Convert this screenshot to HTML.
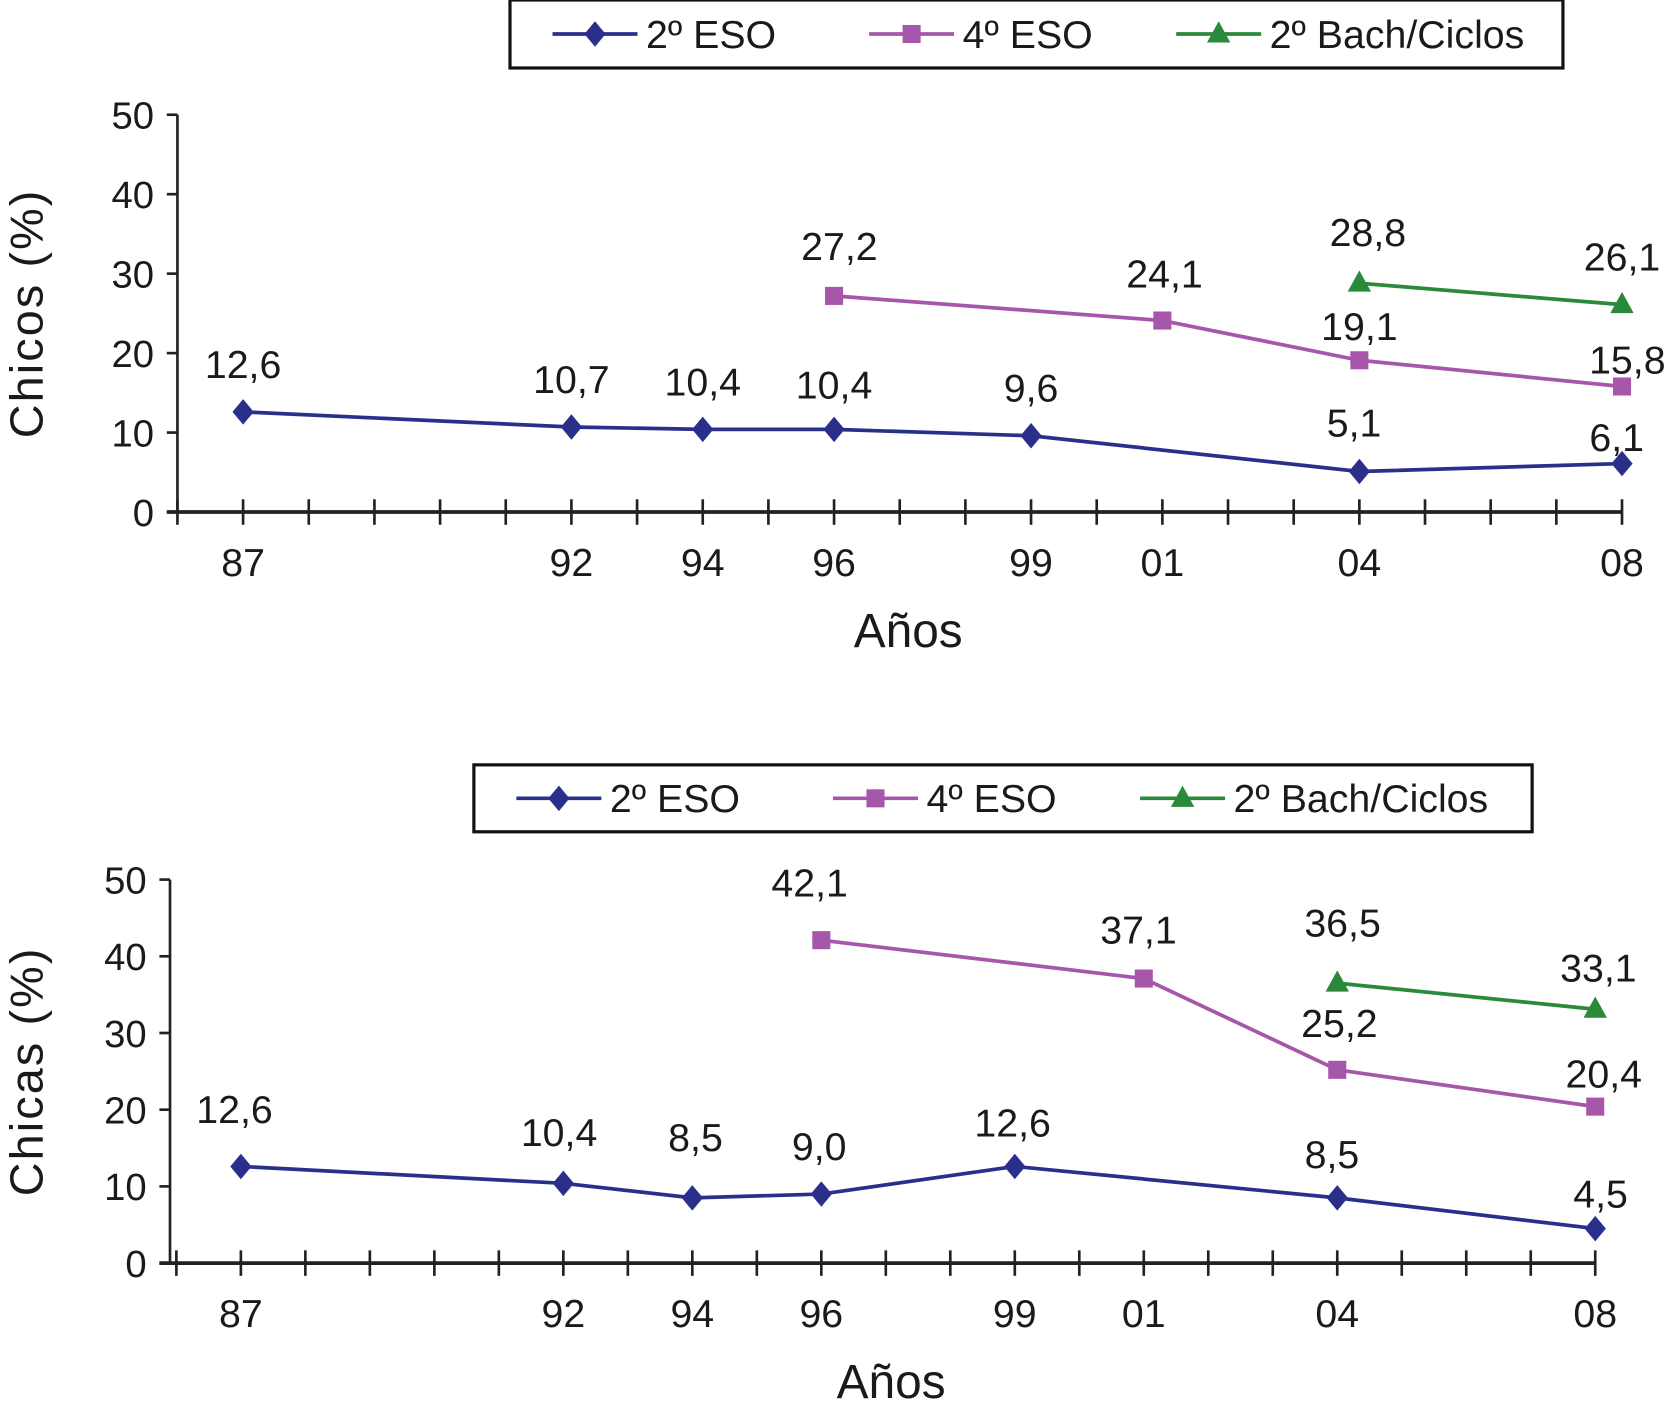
<!DOCTYPE html>
<html><head><meta charset="utf-8"><style>
html,body{margin:0;padding:0;background:#fff;}
svg{display:block;}
text{font-family:"Liberation Sans",sans-serif;fill:#1a1a1a;}
</style></head>
<body>
<svg id="chart" width="1666" height="1415" viewBox="0 0 1568 1332" preserveAspectRatio="none" xmlns="http://www.w3.org/2000/svg"></svg>
<script>
const years = [1987,1992,1994,1996,1999,2001,2004,2008];
const yearLabels = ["87","92","94","96","99","01","04","08"];
const yTicks = [0,10,20,30,40,50];
const seriesNames = ["2º ESO","4º ESO","2º Bach/Ciclos"];
// Chicos
const chicosESO2 = [12.6,10.7,10.4,10.4,9.6,null,5.1,6.1];
const chicosESO4 = [null,null,null,27.2,null,24.1,19.1,15.8];
const chicosBach = [null,null,null,null,null,null,28.8,26.1];
// Chicas
const chicasESO2 = [12.6,10.4,8.5,9.0,12.6,null,8.5,4.5];
const chicasESO4 = [null,null,null,42.1,null,37.1,25.2,20.4];
const chicasBach = [null,null,null,null,null,null,36.5,33.1];

const colors = ["#2b2f8c","#a657a9","#2a8a3a"];
const svg = document.getElementById('chart');
const NS = "http://www.w3.org/2000/svg";
function mk(tag, attrs, parent){
  const e = document.createElementNS(NS, tag);
  for (const k in attrs) e.setAttribute(k, attrs[k]);
  (parent||svg).appendChild(e);
  return e;
}
function fmt(v){ return v.toFixed(1).replace('.', ','); }
function marker(g, kind, x, y, color){
  let m;
  if (kind===0) m = mk('polygon',{points:`${x},${y-12} ${x+10},${y} ${x},${y+12} ${x-10},${y}`,fill:color},g);
  else if (kind===1) m = mk('rect',{x:x-8.5,y:y-8.5,width:17,height:17,fill:color},g);
  else m = mk('polygon',{points:`${x},${y-12} ${x+11},${y+8} ${x-11},${y+8}`,fill:color},g);
  return m;
}
function legend(cfg){
  const g = mk('g',{});
  
  
  mk('rect',{x:cfg.lx,y:cfg.ly,width:cfg.lw,height:cfg.lh,fill:'#fff',stroke:'#111','stroke-width':3},g);
  const offs=[40,338,627];
  seriesNames.forEach((n,i)=>{
    const e = mk('g',{},g);
    
    
    const x0 = cfg.lx+offs[i], yc = cfg.ly+cfg.lh/2;
    mk('line',{x1:x0,y1:yc,x2:x0+80,y2:yc,stroke:colors[i],'stroke-width':3.5},e);
    marker(e,i,x0+40,yc,colors[i]);
    const t = mk('text',{x:x0+88,y:yc+13,'font-size':37},e);
    t.textContent = n;
  });
}
function chart(cfg, data){
  legend(cfg);
  const g = mk('g',{});
  
  
  const X = yr => cfg.x0 + (yr-1986)*cfg.step;
  const Y = v => cfg.yb - v*(cfg.yb-cfg.yt)/50;
  mk('line',{x1:cfg.ax,y1:cfg.yt,x2:cfg.ax,y2:cfg.yb,stroke:'#222','stroke-width':2.5},g);
  yTicks.forEach(v=>{
    mk('line',{x1:cfg.ax-10,y1:Y(v),x2:cfg.ax,y2:Y(v),stroke:'#222','stroke-width':2.5},g);
    const t = mk('text',{x:cfg.ax-22,y:Y(v)+13,'font-size':36,'text-anchor':'end'},g);
    
    
    t.textContent = v;
  });
  mk('line',{x1:cfg.ax-10,y1:cfg.yb,x2:X(2008),y2:cfg.yb,stroke:'#222','stroke-width':3.5},g);
  for (let yr=1986; yr<=2008; yr++){
    mk('line',{x1:X(yr),y1:cfg.yb-12,x2:X(yr),y2:cfg.yb+12,stroke:'#222','stroke-width':2.5},g);
  }
  years.forEach((yr,i)=>{
    const t = mk('text',{x:X(yr),y:cfg.yb+60,'font-size':37,'text-anchor':'middle'},g);
    
    
    t.textContent = yearLabels[i];
  });
  const xt = mk('text',{x:(cfg.ax+X(2008))/2+8,y:cfg.yb+127,'font-size':45,'text-anchor':'middle'},g);
  
  
  xt.textContent = 'Años';
  const yc = (cfg.yt+cfg.yb)/2;
  const ytl = mk('text',{x:0,y:0,'font-size':44,'text-anchor':'middle',transform:`translate(40,${yc}) rotate(-90)`,'letter-spacing':'2'},g);
  
  
  ytl.textContent = cfg.title;
  data.forEach((vals,si)=>{
    const sg = mk('g',{},g);
    
    
    const pts=[];
    vals.forEach((v,i)=>{ if(v!==null) pts.push([X(years[i]),Y(v),v,i]); });
    mk('polyline',{points:pts.map(p=>p[0]+','+p[1]).join(' '),fill:'none',stroke:colors[si],'stroke-width':3.5},sg);
    pts.forEach(p=>{
      const m = marker(sg,si,p[0],p[1],colors[si]);
      
      
      const off = (cfg.offs[si] && cfg.offs[si][p[3]]) || [0,-45];
      const t = mk('text',{x:p[0]+off[0],y:p[1]+off[1]+13,'font-size':37,'text-anchor':'middle'},sg);
      
      
      t.textContent = fmt(p[2]);
    });
  });
}
chart({id:'chicos',title:'Chicos (%)',lx:480,ly:0,lw:991,lh:64,ax:167,x0:167,step:61.8,yt:108,yb:482,
  offs:[{3:[0,-42],6:[-5,-46],7:[-5,-25]},{3:[5,-47],5:[2,-44],6:[0,-32],7:[5,-25]},{6:[8,-48],7:[0,-45]}]},
  [chicosESO2,chicosESO4,chicosBach]);
chart({id:'chicas',title:'Chicas (%)',lx:446,ly:720,lw:996,lh:63,ax:160,x0:166,step:60.7,yt:828,yb:1189,
  offs:[{0:[-6,-54],1:[-4,-48],2:[3,-57],3:[-2,-45],4:[-2,-41],6:[-5,-41],7:[5,-33]},{3:[-11,-54],5:[-5,-46],6:[2,-44],7:[8,-31]},{6:[5,-57],7:[3,-39]}]},
  [chicasESO2,chicasESO4,chicasBach]);
</script>
</body></html>
